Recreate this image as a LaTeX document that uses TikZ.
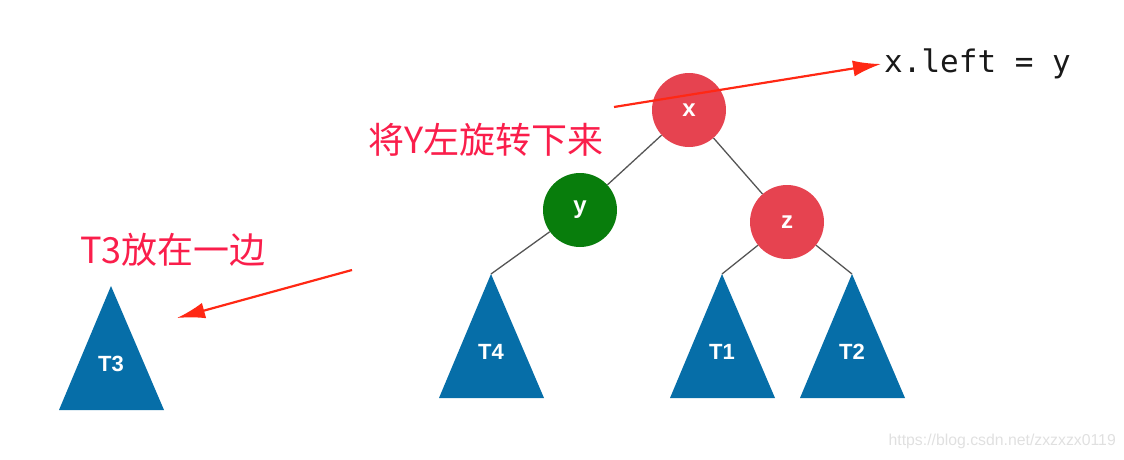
\documentclass[tikz,border=0pt]{standalone}
\usepackage{fontspec}
\setmainfont{Liberation Sans}
\newfontfamily\cjk{Noto Sans CJK SC}
\newfontfamily\monof{DejaVu Sans Mono}
\usetikzlibrary{arrows.meta}
\definecolor{nodered}{RGB}{230,67,80}
\definecolor{nodegreen}{RGB}{8,125,12}
\definecolor{treeblue}{RGB}{6,110,168}
\definecolor{edgegray}{RGB}{85,85,85}
\definecolor{annored}{RGB}{255,40,20}
\definecolor{textpink}{RGB}{250,30,75}
\begin{document}
\begin{tikzpicture}[x=1pt,y=-1pt,
  rbnode/.style={circle,minimum size=74pt,inner sep=0pt,text=white,font=\fontsize{24}{24}\selectfont\bfseries},
  subtree/.style={fill=treeblue,draw=none},
  treelabel/.style={text=white,font=\fontsize{22}{22}\selectfont\bfseries},
  edge/.style={draw=edgegray,line width=1.3pt},
  annoarrow/.style={draw=annored,line width=2.2pt,-{Latex[length=28pt,width=16pt]}},
  cjklabel/.style={text=textpink,font=\cjk\fontsize{36}{36}\selectfont,inner sep=0pt}
]
\useasboundingbox (0,0) rectangle (1124,460);
% subtrees
\coordinate (t4a) at (491,274);
\coordinate (t1a) at (722,274);
\coordinate (t2a) at (852,274);
\coordinate (t3a) at (111,286);
\fill[subtree] (t4a) -- (544,398) -- (439,398) -- cycle;
\fill[subtree] (t1a) -- (775,398) -- (670,398) -- cycle;
\fill[subtree] (t2a) -- (905,398) -- (800,398) -- cycle;
\fill[subtree] (t3a) -- (164,410) -- (59,410) -- cycle;
\node[treelabel] (T4) at (491,352) {T4};
\node[treelabel] (T1) at (722,352) {T1};
\node[treelabel] (T2) at (852,352) {T2};
\node[treelabel] (T3) at (111,364) {T3};
% nodes
\node[rbnode,fill=nodered] (x) at (689,110) {x};
\node[rbnode,fill=nodegreen] (y) at (580,210) {y};
\node[rbnode,fill=nodered] (z) at (787,222) {z};
% edges
\draw[edge] (x) -- (y);
\draw[edge] (x) -- (z);
\draw[edge] (y) -- (t4a);
\draw[edge] (z) -- (t1a);
\draw[edge] (z) -- (t2a);
% texts
\node[anchor=west,inner sep=0pt,font=\monof\fontsize{31}{31}\selectfont,text=black!90] (code) at (884,64) {x.left = y};
\node[cjklabel,anchor=west] (rot) at (368,140) {将Y左旋转下来};
\node[cjklabel,anchor=west] (aside) at (80,250) {T3放在一边};
\node[anchor=east,inner sep=0pt,text=black!12,font=\fontsize{15.8}{15.8}\selectfont] (wm) at (1116,441) {https://blog.csdn.net/zxzxzx0119};
% annotation arrows
\coordinate (a1s) at (614,107);
\coordinate (a2s) at (352,270);
\coordinate (a2e) at (177,318);
\draw[annoarrow] (a1s) -- ([xshift=-3pt]code.west);
\draw[annoarrow] (a2s) -- (a2e);
\end{tikzpicture}
\end{document}
